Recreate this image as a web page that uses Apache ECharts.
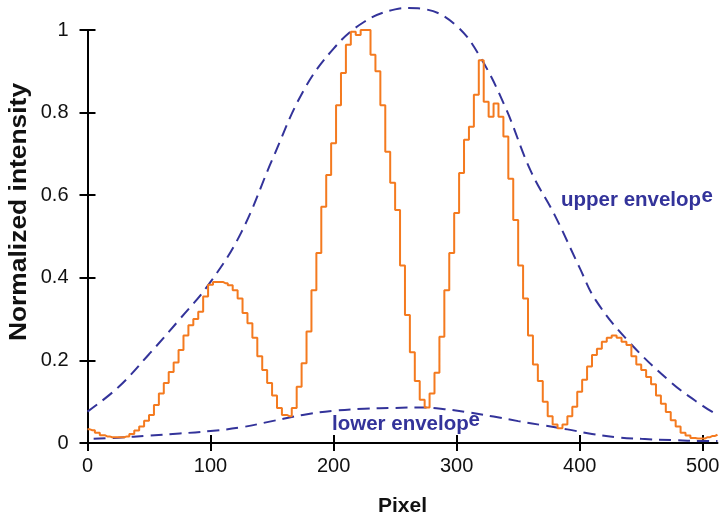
<!DOCTYPE html>
<html>
<head>
<meta charset="utf-8">
<script src="https://cdn.jsdelivr.net/npm/echarts@6/dist/echarts.min.js"></script>
<style>html,body{margin:0;padding:0;background:#fff;}#c{width:722px;height:518px;}</style>
</head>
<body>
<div id="c"></div>
<script>
// ---- data ----
const pixel = [0,4,8,12,16,20,24,28,32,36,40,44,48,52,56,60,64,68,72,76,80,84,88,92,96,100,104,108,112,116,120,124,128,132,136,140,144,148,152,156,160,164,168,172,176,180,184,188,192,196,200,204,208,212,216,220,224,228,232,236,240,244,248,252,256,260,264,268,272,276,280,284,288,292,296,300,304,308,312,316,320,324,328,332,336,340,344,348,352,356,360,364,368,372,376,380,384,388,392,396,400,404,408,412,416,420,424,428,432,436,440,444,448,452,456,460,464,468,472,476,480,484,488,492,496,500,504,508,512];
const intensity = [0.033,0.031,0.025,0.019,0.016,0.014,0.014,0.014,0.016,0.022,0.030,0.040,0.054,0.068,0.092,0.120,0.145,0.172,0.195,0.225,0.260,0.285,0.300,0.318,0.355,0.383,0.390,0.390,0.387,0.382,0.370,0.350,0.315,0.290,0.255,0.210,0.177,0.145,0.115,0.085,0.068,0.065,0.085,0.136,0.193,0.270,0.370,0.460,0.572,0.649,0.726,0.818,0.896,0.964,0.996,0.988,1.000,1.000,0.940,0.900,0.818,0.705,0.630,0.564,0.430,0.310,0.220,0.150,0.105,0.086,0.120,0.170,0.257,0.370,0.460,0.557,0.654,0.734,0.766,0.843,0.927,0.826,0.790,0.822,0.790,0.742,0.640,0.540,0.430,0.350,0.260,0.190,0.150,0.100,0.065,0.045,0.036,0.045,0.065,0.088,0.124,0.153,0.185,0.213,0.228,0.245,0.255,0.260,0.255,0.245,0.237,0.210,0.190,0.177,0.160,0.142,0.115,0.095,0.075,0.055,0.040,0.025,0.018,0.012,0.011,0.011,0.014,0.017,0.020];
const upperX = [0,25,50,75,100,125,150,175,200,225,250,261,275,300,320,340,360,380,400,413,440,475,500,512];
const upperY = [0.076,0.135,0.215,0.300,0.390,0.510,0.685,0.850,0.955,1.020,1.050,1.053,1.050,1.010,0.930,0.810,0.660,0.550,0.424,0.346,0.245,0.145,0.090,0.068];
const lowerX = [5,25,50,75,100,125,150,175,200,225,250,270,290,310,330,350,370,390,410,430,450,475,500,512];
const lowerY = [0.010,0.013,0.018,0.023,0.029,0.038,0.053,0.068,0.078,0.083,0.085,0.086,0.082,0.074,0.064,0.053,0.043,0.033,0.022,0.014,0.010,0.007,0.005,0.005];
const xTicks = [0,100,200,300,400,500];
const yTicks = [0,0.2,0.4,0.6,0.8,1];
const upperLabel = ['upper envelop','e'];
const lowerLabel = ['lower envelop','e'];
const xTitle = 'Pixel';
const yTitle = 'Normalized intensity';

const zip = (a,b) => a.map((v,i)=>[v,b[i]]);
const FONT = "'Liberation Sans', Arial, sans-serif";
const BLUE = '#33339a';
const ORANGE = '#f47a1f';

const chart = echarts.init(document.getElementById('c'), null, {renderer:'canvas'});
chart.setOption({
  animation:false,
  backgroundColor:'#fff',
  grid:{left:87.5, right:4.5, top:30, bottom:75, containLabel:false, outerBoundsMode:'none'},
  xAxis:[{
    type:'value', min:0, max:512, position:'bottom',
    axisLine:{show:true, onZero:false, lineStyle:{color:'#000', width:2}},
    axisTick:{show:true, inside:false, length:8, lineStyle:{color:'#000', width:2}, customValues:xTicks},
    axisLabel:{show:true, margin:13, fontSize:20, color:'#111', fontFamily:FONT, customValues:xTicks},
    splitLine:{show:false},
    name:xTitle, nameLocation:'middle', nameGap:53,
    nameTextStyle:{fontSize:21, fontWeight:'bold', color:'#111', fontFamily:FONT}
  },{
    type:'value', min:0, max:512, position:'bottom',
    axisLine:{show:false, onZero:false},
    axisTick:{show:true, inside:true, length:8, lineStyle:{color:'#000', width:2}, customValues:xTicks},
    axisLabel:{show:false}, splitLine:{show:false}
  }],
  yAxis:[{
    type:'value', min:0, max:1, interval:0.2, position:'left',
    axisLine:{show:true, onZero:false, lineStyle:{color:'#000', width:2}},
    axisTick:{show:true, inside:false, length:8, lineStyle:{color:'#000', width:2}, customValues:yTicks},
    axisLabel:{show:true, margin:19, fontSize:20, color:'#111', fontFamily:FONT, customValues:yTicks},
    splitLine:{show:false}
  },{
    type:'value', min:0, max:1, interval:0.2, position:'left',
    axisLine:{show:false, onZero:false},
    axisTick:{show:true, inside:true, length:8, lineStyle:{color:'#000', width:2}, customValues:yTicks},
    axisLabel:{show:false}, splitLine:{show:false}
  }],
  series:[
    {type:'line', name:'signal', data:zip(pixel,intensity), step:'middle', symbol:'none', clip:false,
     lineStyle:{color:ORANGE, width:2}, z:3},
    {type:'line', name:'upper', data:zip(upperX,upperY), smooth:0.4, symbol:'none', clip:false,
     lineStyle:{color:BLUE, width:2, type:[12,7]}, z:2},
    {type:'line', name:'lower', data:zip(lowerX,lowerY), smooth:0.4, symbol:'none', clip:false,
     lineStyle:{color:BLUE, width:2, type:[12,7]}, z:2}
  ],
  graphic:[
    {type:'text', x:19, y:212, rotation:Math.PI/2, scaleX:1.1,
     style:{text:yTitle, font:"bold 24px "+FONT, fill:'#111', align:'center', verticalAlign:'middle'}},
    {type:'text', x:561, y:200, style:{text:upperLabel[0], font:"bold 20.5px "+FONT, fill:BLUE, verticalAlign:'middle'}},
    {type:'text', x:701.5, y:196, style:{text:upperLabel[1], font:"bold 20.5px "+FONT, fill:BLUE, verticalAlign:'middle'}},
    {type:'text', x:332, y:424, style:{text:lowerLabel[0], font:"bold 20.5px "+FONT, fill:BLUE, verticalAlign:'middle'}},
    {type:'text', x:468.5, y:420, style:{text:lowerLabel[1], font:"bold 20.5px "+FONT, fill:BLUE, verticalAlign:'middle'}}
  ]
});
</script>
</body>
</html>
